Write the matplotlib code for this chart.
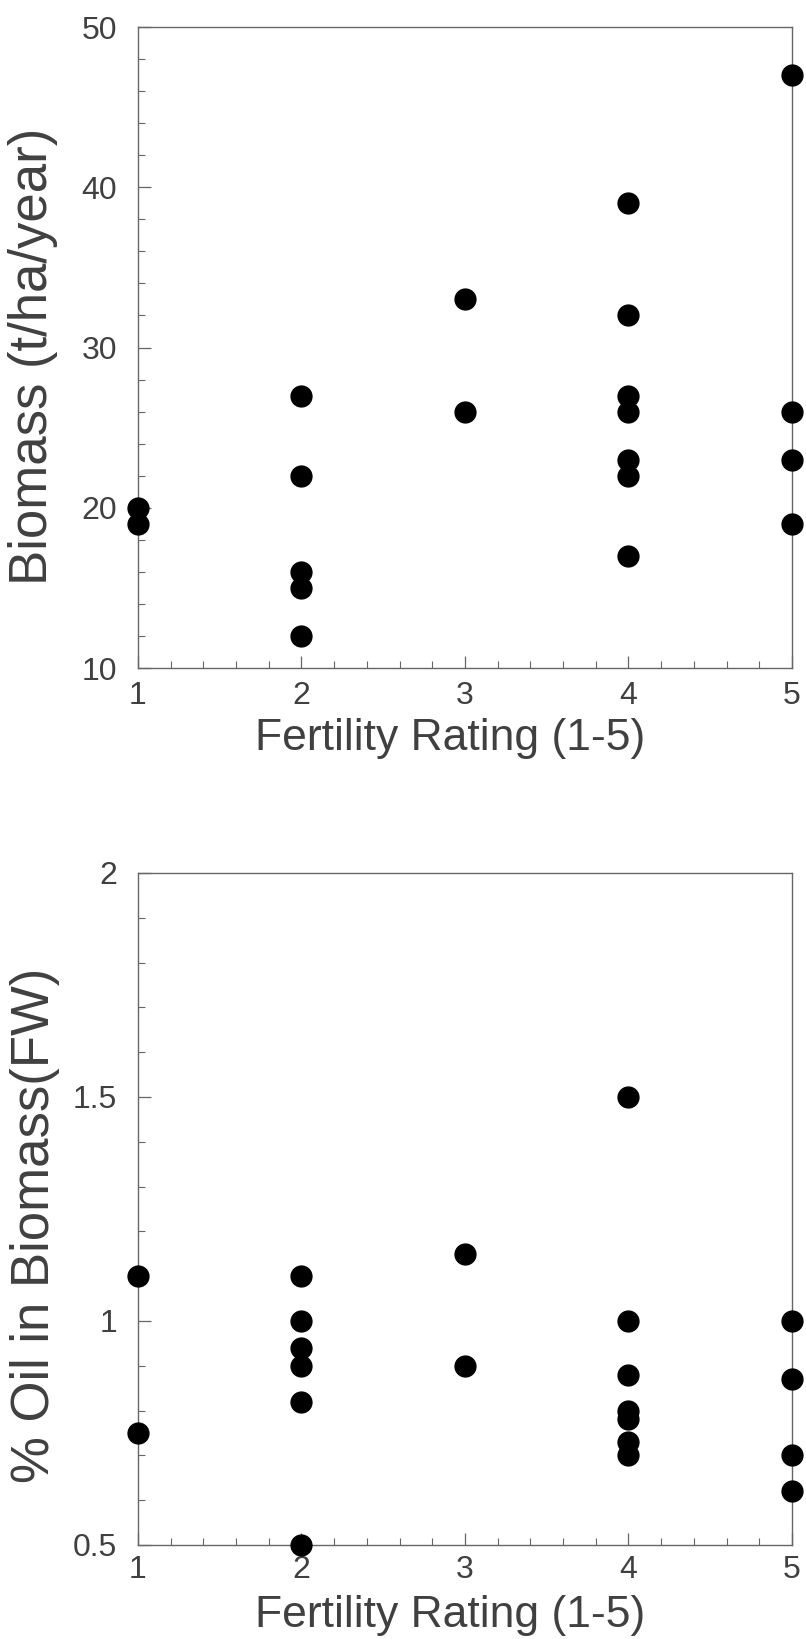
import matplotlib
matplotlib.use("Agg")
import matplotlib.pyplot as plt
from matplotlib.ticker import MultipleLocator

# fertility rating for each sample
fert_top = [1, 1, 2, 2, 2, 2, 2, 3, 3, 4, 4, 4, 4, 4, 4, 4, 5, 5, 5, 5]
biomass = [20, 19, 27, 22, 16, 15, 12, 33, 26, 39, 32, 27, 26, 23, 22, 17, 47, 26, 23, 19]

fert_bot = [1, 1, 2, 2, 2, 2, 2, 2, 3, 3, 4, 4, 4, 4, 4, 4, 4, 5, 5, 5, 5]
oil_pct = [1.10, 0.75, 1.10, 1.00, 0.94, 0.90, 0.82, 0.50, 1.15, 0.90,
           1.50, 1.00, 0.88, 0.80, 0.78, 0.73, 0.70, 1.00, 0.87, 0.70, 0.62]

x_ticks = [1, 2, 3, 4, 5]
top_yticks = [10, 20, 30, 40, 50]
bot_yticks = [0.5, 1, 1.5, 2]
bot_ylabels = ["0.5", "1", "1.5", "2"]

TEXT = "#404040"
AXIS = "#666666"
plt.rcParams["font.family"] = ["Liberation Sans", "DejaVu Sans"]

fig = plt.figure(figsize=(8.06, 16.39), dpi=100)
ax1 = fig.add_axes([0.1712, 0.5924, 0.8114, 0.3911])
ax2 = fig.add_axes([0.1712, 0.0574, 0.8114, 0.4100])


def style(ax, ylim, yticks, ylabels, yminor, ylabel, xpad, ylab_x, ylab_y, xlab_y):
    ax.set_xlim(1, 5)
    ax.set_ylim(*ylim)
    ax.set_xticks(x_ticks)
    ax.set_xticklabels([str(t) for t in x_ticks])
    ax.set_yticks(yticks)
    ax.set_yticklabels(ylabels)
    ax.xaxis.set_minor_locator(MultipleLocator(0.2))
    ax.yaxis.set_minor_locator(MultipleLocator(yminor))
    ax.tick_params(which="major", direction="in", length=9, width=0.9,
                   color=AXIS, labelsize=23, labelcolor=TEXT)
    ax.tick_params(which="minor", direction="in", length=5, width=0.8, color=AXIS)
    ax.tick_params(axis="x", which="major", pad=xpad)
    ax.tick_params(axis="y", which="major", pad=15)
    for s in ax.spines.values():
        s.set_color(AXIS)
        s.set_linewidth(1.0)
    ax.set_xlabel("Fertility Rating (1-5)", fontsize=32, color=TEXT)
    ax.xaxis.set_label_coords(0.477, xlab_y)
    ax.set_ylabel(ylabel, fontsize=38, color=TEXT)
    ax.yaxis.set_label_coords(ylab_x, ylab_y)


ax1.plot(fert_top, biomass, "o", color="black", markersize=15, clip_on=False, zorder=5)
style(ax1, (10, 50), top_yticks, [str(t) for t in top_yticks], 2,
      "Biomass (t/ha/year)", 9, -0.122, 0.486, -0.078)

ax2.plot(fert_bot, oil_pct, "o", color="black", markersize=15, clip_on=False, zorder=5)
style(ax2, (0.5, 2), bot_yticks, bot_ylabels, 0.1,
      "% Oil in Biomass(FW)", 7, -0.119, 0.475, -0.074)

fig.savefig("out.png", dpi=100)
